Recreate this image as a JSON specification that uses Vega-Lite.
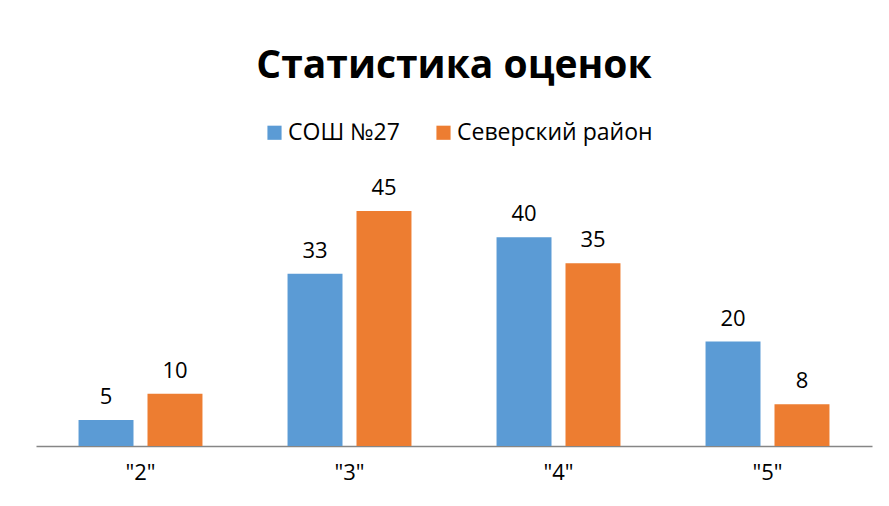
{
  "$schema": "https://vega.github.io/schema/vega-lite/v6.json",
  "autosize": {"type": "none"},
  "width": 836,
  "height": 261,
  "padding": {"left": 36, "top": 185, "right": 17, "bottom": 60},
  "background": "white",
  "config": {"view": {"stroke": null}, "font": "Open Sans"},
  "title": {
    "text": "Статистика оценок",
    "font": "Open Sans",
    "fontSize": 39,
    "fontWeight": "bold",
    "color": "#000000",
    "anchor": "middle",
    "baseline": "alphabetic",
    "offset": 4
  },
  "data": {
    "values": [
      {"grade": "\"2\"", "series": "СОШ №27", "value": 5},
      {"grade": "\"2\"", "series": "Северский район", "value": 10},
      {"grade": "\"3\"", "series": "СОШ №27", "value": 33},
      {"grade": "\"3\"", "series": "Северский район", "value": 45},
      {"grade": "\"4\"", "series": "СОШ №27", "value": 40},
      {"grade": "\"4\"", "series": "Северский район", "value": 35},
      {"grade": "\"5\"", "series": "СОШ №27", "value": 20},
      {"grade": "\"5\"", "series": "Северский район", "value": 8}
    ]
  },
  "encoding": {
    "x": {
      "field": "grade",
      "type": "nominal",
      "sort": null,
      "scale": {"paddingInner": 0.407, "paddingOuter": 0.2035},
      "axis": {
        "title": null,
        "labelAngle": 0,
        "ticks": false,
        "domainColor": "#868686",
        "domainWidth": 1.3,
        "labelFontSize": 22,
        "labelColor": "#000000",
        "labelPadding": 16,
        "labelFont": "Open Sans"
      }
    },
    "xOffset": {
      "field": "series",
      "type": "nominal",
      "sort": ["СОШ №27", "Северский район"],
      "scale": {"paddingInner": 0.203, "paddingOuter": 0}
    },
    "y": {
      "field": "value",
      "type": "quantitative",
      "scale": {"domain": [0, 50], "nice": false},
      "axis": null
    }
  },
  "layer": [
    {
      "mark": {"type": "bar"},
      "encoding": {
        "color": {
          "field": "series",
          "type": "nominal",
          "sort": ["СОШ №27", "Северский район"],
          "scale": {"domain": ["СОШ №27", "Северский район"], "range": ["#5B9BD5", "#ED7D31"]},
          "legend": {
            "title": null,
            "orient": "none",
            "direction": "horizontal",
            "legendX": 227,
            "legendY": -64,
            "symbolType": "square",
            "symbolSize": 200,
            "symbolStrokeWidth": 0,
            "labelFontSize": 23,
            "labelFont": "Open Sans",
            "labelColor": "#000000",
            "labelOffset": 2,
            "labelLimit": 400,
            "columnPadding": 32
          }
        }
      }
    },
    {
      "mark": {"type": "text", "baseline": "alphabetic", "dy": -16, "fontSize": 22, "color": "#000000", "font": "Open Sans"},
      "encoding": {"text": {"field": "value", "type": "quantitative"}}
    }
  ]
}
